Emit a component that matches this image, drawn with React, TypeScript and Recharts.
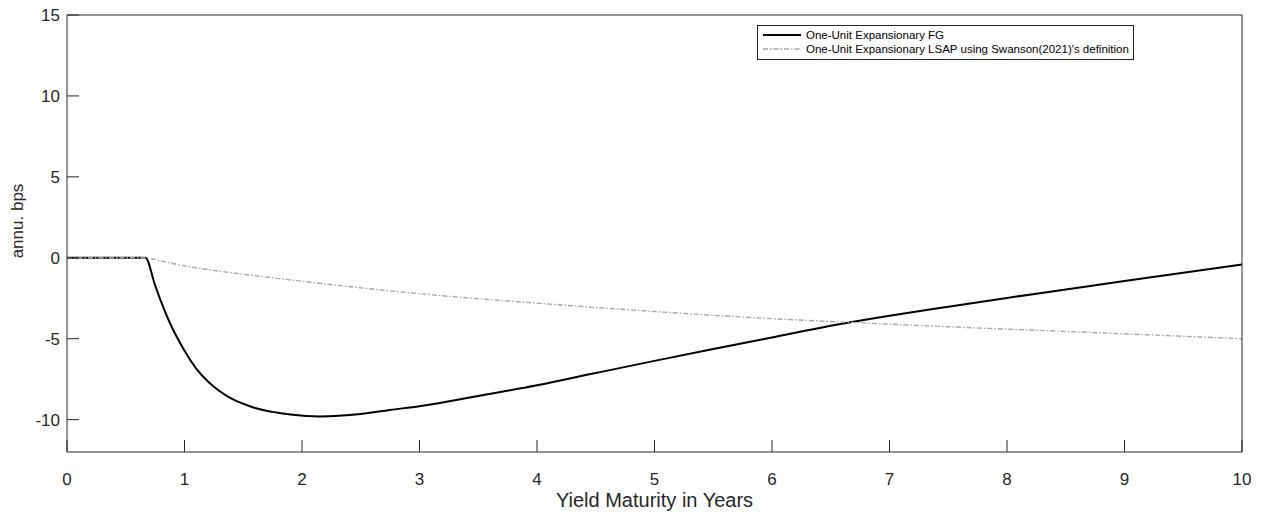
import { LineChart, Line, XAxis, YAxis, Legend } from 'recharts'

// FG response (black, solid)
const fgMaturity = [0, 0.25, 0.5, 0.667, 0.75, 0.8, 0.85, 0.9, 0.95, 1.0, 1.1, 1.2, 1.3, 1.4, 1.5, 1.6, 1.75, 1.9, 2.15, 2.5, 2.75, 3.0, 3.5, 4.0, 4.5, 5.0, 5.5, 6.0, 6.5, 7.0, 7.5, 8.0, 8.5, 9.0, 9.5, 10]
const fgValues = [0, 0, 0, 0, -1.7, -2.7, -3.6, -4.4, -5.1, -5.75, -6.85, -7.65, -8.25, -8.7, -9.02, -9.28, -9.52, -9.68, -9.8, -9.65, -9.4, -9.17, -8.54, -7.88, -7.12, -6.37, -5.64, -4.92, -4.2, -3.58, -3.02, -2.48, -1.96, -1.43, -0.92, -0.42]

// LSAP response (grey, dash-dot)
const lsapMaturity = [0, 0.25, 0.5, 0.667, 0.8, 1.0, 1.25, 1.56, 2.0, 2.49, 3.0, 3.5, 4.03, 4.5, 5.0, 5.56, 6.0, 6.66, 7.0, 7.5, 8.0, 8.5, 9.0, 9.5, 10]
const lsapValues = [0, 0, 0, 0, -0.2, -0.5, -0.78, -1.07, -1.45, -1.85, -2.22, -2.53, -2.82, -3.07, -3.32, -3.58, -3.76, -3.99, -4.1, -4.26, -4.41, -4.55, -4.7, -4.85, -5.0]

const xTicks = [0, 1, 2, 3, 4, 5, 6, 7, 8, 9, 10]
const yTicks = [-10, -5, 0, 5, 10, 15]

const fgName = 'One-Unit Expansionary FG'
const lsapName = "One-Unit Expansionary LSAP using Swanson(2021)'s definition"

const fgData = fgMaturity.map((m, i) => ({ m, v: fgValues[i] }))
const lsapData = lsapMaturity.map((m, i) => ({ m, v: lsapValues[i] }))

const W = 1263
const H = 512
const LEFT = 67
const RIGHT = 1242
const TOP = 15
const BOTTOM = 452
const INK = '#262626'
const FONT = '"Liberation Sans", Arial, sans-serif'
const TICK = 12

const BottomTick = (p: any) => (
  <g>
    <line x1={p.x} x2={p.x} y1={BOTTOM} y2={BOTTOM - TICK} stroke={INK} />
    <text x={p.x} y={BOTTOM + 33} textAnchor="middle" fontSize={17} fill={INK} fontFamily={FONT}>{p.payload.value}</text>
  </g>
)
const TopTick = (p: any) => (
  <line x1={p.x} x2={p.x} y1={TOP} y2={TOP + TICK} stroke={INK} />
)
const LeftTick = (p: any) => (
  <g>
    <line x1={LEFT} x2={LEFT + TICK} y1={p.y} y2={p.y} stroke={INK} />
    <text x={LEFT - 7} y={p.y + 6} textAnchor="end" fontSize={17} fill={INK} fontFamily={FONT}>{p.payload.value}</text>
  </g>
)
const RightTick = (p: any) => (
  <line x1={RIGHT} x2={RIGHT - TICK} y1={p.y} y2={p.y} stroke={INK} />
)

const LegendBox = ({ payload }: any) => (
  <div style={{ border: `1px solid ${INK}`, background: '#fff', padding: '2px 4px 3px 4px', fontFamily: FONT, fontSize: 11.5, color: '#000', lineHeight: '14px' }}>
    {(payload || []).map((e: any) => (
      <div key={e.value} style={{ display: 'flex', alignItems: 'center', whiteSpace: 'nowrap' }}>
        <svg width={40} height={8} style={{ marginRight: 4 }}>
          <line x1={1} x2={39} y1={4} y2={4} stroke={e.color} strokeWidth={e.payload?.strokeWidth ?? 1.5} strokeDasharray={e.payload?.strokeDasharray} />
        </svg>
        {e.value}
      </div>
    ))}
  </div>
)

export default function App() {
  return (
    <div style={{ position: 'absolute', left: 0, top: 0, width: W, height: H, background: '#fff' }}>
      <LineChart width={W} height={H} margin={{ top: 0, right: 0, bottom: 0, left: 0 }}>
        <XAxis xAxisId={0} dataKey="m" type="number" domain={[0, 10]} ticks={xTicks} orientation="bottom" height={H - BOTTOM}
          tickSize={0} tickLine={false} tick={BottomTick} axisLine={{ stroke: INK }} interval={0}
          label={{ content: () => <text x={(LEFT + RIGHT) / 2} y={507} textAnchor="middle" fontSize={20} fill={INK} fontFamily={FONT}>Yield Maturity in Years</text> }} />
        <XAxis xAxisId="top" dataKey="m" type="number" domain={[0, 10]} ticks={xTicks} orientation="top" height={TOP}
          tickSize={0} tickLine={false} tick={TopTick} axisLine={{ stroke: INK }} interval={0} />
        <YAxis yAxisId={0} type="number" domain={[-12, 15]} ticks={yTicks} width={LEFT}
          tickSize={0} tickLine={false} tick={LeftTick} axisLine={{ stroke: INK }} interval={0}
          label={{ content: () => <text x={23} y={221} textAnchor="middle" fontSize={17} fill={INK} fontFamily={FONT} transform="rotate(-90 23 221)">annu. bps</text> }} />
        <YAxis yAxisId="right" type="number" domain={[-12, 15]} ticks={yTicks} orientation="right" width={W - RIGHT}
          tickSize={0} tickLine={false} tick={RightTick} axisLine={{ stroke: INK }} interval={0} />
        <Legend layout="vertical" align="center" verticalAlign="middle" content={LegendBox}
          wrapperStyle={{ position: 'absolute', left: 757, top: 25, width: 'auto', height: 'auto' }} />
        <Line data={fgData} dataKey="v" name={fgName} type="monotone" stroke="#000" strokeWidth={2} dot={false} isAnimationActive={false} />
        <Line data={lsapData} dataKey="v" name={lsapName} type="monotone" stroke="#a8a8a8" strokeWidth={1.4} strokeDasharray="5 2 1.5 2" dot={false} isAnimationActive={false} />
      </LineChart>
    </div>
  )
}
